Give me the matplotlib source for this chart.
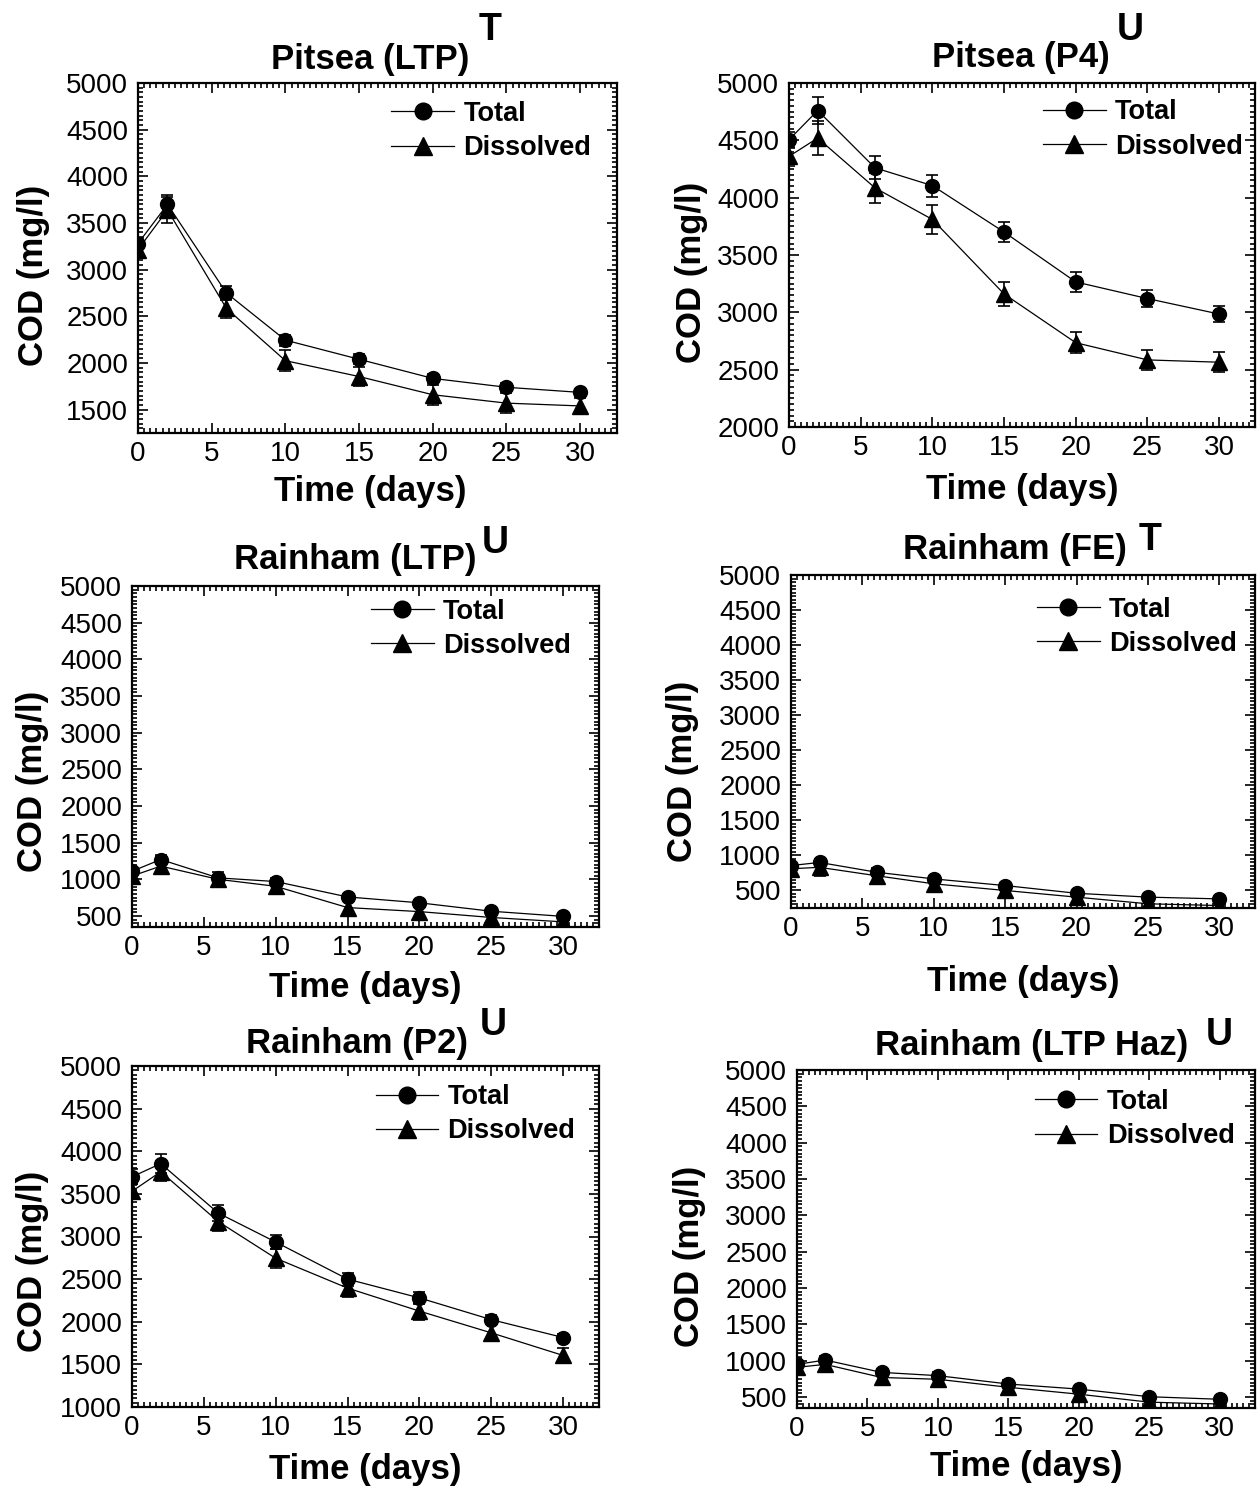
import matplotlib
matplotlib.use("Agg")
import matplotlib.pyplot as plt
from matplotlib.lines import Line2D
from matplotlib.ticker import MultipleLocator, AutoMinorLocator

plt.rcParams['font.family'] = ['Liberation Sans', 'DejaVu Sans']

# --- Datos ---
dias = [0, 2, 6, 10, 15, 20, 25, 30]

# Pitsea (LTP)
pl_total = [3280, 3700, 2750, 2245, 2040, 1835, 1740, 1685]
pl_total_err = [60, 105, 80, 60, 55, 50, 45, 40]
pl_dis = [3215, 3640, 2585, 2025, 1855, 1660, 1570, 1540]
pl_dis_err = [60, 140, 105, 115, 105, 105, 105, 90]

# Pitsea (P4)
pp_total = [4505, 4760, 4260, 4105, 3700, 3265, 3120, 2985]
pp_total_err = [70, 115, 100, 95, 90, 85, 75, 70]
pp_dis = [4360, 4520, 4085, 3810, 3160, 2735, 2585, 2565]
pp_dis_err = [80, 150, 130, 125, 105, 90, 90, 85]

# Rainham (LTP)
rl_total = [1110, 1270, 1020, 970, 760, 680, 565, 495]
rl_total_err = [50, 60, 40, 50, 40, 40, 30, 30]
rl_dis = [1045, 1180, 1000, 905, 615, 560, 480, 420]
rl_dis_err = [60, 110, 100, 100, 100, 90, 80, 60]

# Rainham (FE)
rf_total = [855, 900, 760, 665, 570, 460, 405, 380]
rf_total_err = [40, 40, 40, 40, 40, 40, 40, 30]
rf_dis = [810, 830, 710, 595, 500, 405, 310, 285]
rf_dis_err = [60, 120, 110, 110, 100, 90, 90, 80]

# Rainham (P2)
rp_total = [3700, 3855, 3275, 2935, 2500, 2280, 2025, 1815]
rp_total_err = [90, 110, 95, 85, 75, 70, 50, 40]
rp_dis = [3530, 3760, 3175, 2745, 2395, 2125, 1870, 1605]
rp_dis_err = [80, 110, 110, 110, 110, 100, 100, 90]

# Rainham (LTP Haz)
rh_total = [950, 1010, 840, 795, 680, 610, 505, 470]
rh_total_err = [40, 40, 40, 40, 40, 40, 30, 30]
rh_dis = [910, 950, 770, 745, 635, 540, 430, 405]
rh_dis_err = [60, 110, 110, 100, 100, 100, 90, 80]

W, H = 1257, 1488
fig = plt.figure(figsize=(W / 100, H / 100), dpi=100)


def rect(x0, x1, y0, y1):
    return [x0 / W, 1 - y1 / H, (x1 - x0) / W, (y1 - y0) / H]


def fpos(x, y):
    return (x / W, 1 - y / H)


paneles = [
    dict(box=rect(138, 617, 83, 433), ylim=(1250, 5000), total=pl_total, terr=pl_total_err,
         dis=pl_dis, derr=pl_dis_err, title="Pitsea (LTP)", tpos=(370, 59), sup="T", spos=(490, 30),
         ylab=(-0.219, 0.45), xlab=(0.484, -0.12), leg=(0.946, 0.863)),
    dict(box=rect(789, 1255, 83, 427), ylim=(2000, 5000), total=pp_total, terr=pp_total_err,
         dis=pp_dis, derr=pp_dis_err, title="Pitsea (P4)", tpos=(1021, 57), sup="U", spos=(1130, 30),
         ylab=(-0.21, 0.45), xlab=(0.5, -0.134), leg=(0.974, 0.865)),
    dict(box=rect(132, 599, 586, 927), ylim=(350, 5000), total=rl_total, terr=rl_total_err,
         dis=rl_dis, derr=rl_dis_err, title="Rainham (LTP)", tpos=(355, 560), sup="U", spos=(495, 543),
         ylab=(-0.214, 0.428), xlab=(0.5, -0.129), leg=(0.94, 0.875)),
    dict(box=rect(791, 1255, 575, 908), ylim=(250, 5000), total=rf_total, terr=rf_total_err,
         dis=rf_dis, derr=rf_dis_err, title="Rainham (FE)", tpos=(1015, 550), sup="T", spos=(1150, 540),
         ylab=(-0.233, 0.41), xlab=(0.5, -0.171), leg=(0.961, 0.845)),
    dict(box=rect(132, 599, 1066, 1407), ylim=(1000, 5000), total=rp_total, terr=rp_total_err,
         dis=rp_dis, derr=rp_dis_err, title="Rainham (P2)", tpos=(357, 1043), sup="U", spos=(493, 1025),
         ylab=(-0.214, 0.428), xlab=(0.5, -0.135), leg=(0.949, 0.858)),
    dict(box=rect(797, 1255, 1070, 1408), ylim=(350, 5000), total=rh_total, terr=rh_total_err,
         dis=rh_dis, derr=rh_dis_err, title="Rainham (LTP Haz)", tpos=(1032, 1045), sup="U", spos=(1219, 1035),
         ylab=(-0.234, 0.45), xlab=(0.5, -0.125), leg=(0.956, 0.855)),
]

for p in paneles:
    ax = fig.add_axes(p['box'])
    ax.errorbar(dias, p['dis'], yerr=p['derr'], color='black', marker='^', markersize=11,
                linewidth=0.9, elinewidth=1.2, capsize=4.5, capthick=1.2)
    ax.errorbar(dias, p['total'], yerr=p['terr'], color='black', marker='o', markersize=10,
                linewidth=0.9, elinewidth=1.2, capsize=4.5, capthick=1.2)

    ax.set_xlim(0, 32.5)
    ax.set_ylim(*p['ylim'])
    ax.xaxis.set_major_locator(MultipleLocator(5))
    ax.xaxis.set_minor_locator(AutoMinorLocator(12))
    ax.yaxis.set_major_locator(MultipleLocator(500))
    ax.yaxis.set_minor_locator(AutoMinorLocator(10))
    ax.tick_params(which='both', direction='in', top=True, right=True, width=1.2)
    ax.tick_params(which='major', length=7, labelsize=20)
    ax.tick_params(which='minor', length=3.5)
    ax.tick_params(axis='x', pad=6)
    ax.tick_params(axis='y', pad=7)
    for s in ax.spines.values():
        s.set_linewidth(1.6)

    ax.set_ylabel("COD (mg/l)", fontsize=25, fontweight='bold', va='center')
    ax.yaxis.set_label_coords(*p['ylab'])
    ax.set_xlabel("Time (days)", fontsize=25, fontweight='bold', va='top')
    ax.xaxis.set_label_coords(*p['xlab'])

    handles = [Line2D([], [], color='black', marker='o', markersize=12, linewidth=0.9),
               Line2D([], [], color='black', marker='^', markersize=13, linewidth=0.9)]
    ax.legend(handles, ['Total', 'Dissolved'], loc='center right', bbox_to_anchor=p['leg'],
              frameon=False, borderpad=0, borderaxespad=0, handlelength=2.3,
              handletextpad=0.35, labelspacing=0.3, numpoints=1,
              prop={'size': 19.5, 'weight': 'bold'})

    fig.text(*fpos(*p['tpos']), p['title'], fontsize=25, fontweight='bold', ha='center', va='center')
    fig.text(*fpos(*p['spos']), p['sup'], fontsize=27, fontweight='bold', ha='center', va='center')

fig.savefig("out.png", dpi=100)
